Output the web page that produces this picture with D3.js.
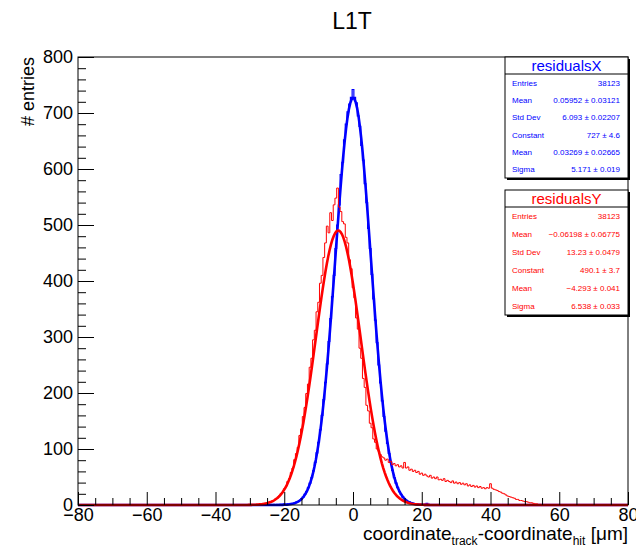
<!DOCTYPE html>
<html>
<head>
  <meta charset="utf-8">
  <script src="https://d3js.org/d3.v7.min.js"></script>
  <style>
    body { margin: 0; background: #fff; }
    svg text { font-family: "Liberation Sans", Arial, sans-serif; }
  </style>
</head>
<body>
<div id="plot"></div>
<script>
// histogram binning (µm), 0.5 um bins
var binWidth = 0.5;
var xRange = [-80, 80];
var yRange = [0, 800];

// residualsX (blue), bins starting at -25.25
var blueStart = -25.25;
var blueCounts = [0,0,1,0,1,0,1,1,1,1,2,1,2,2,3,3,4,5,6,8,11,14,19,24,31,39,49,61,76,93,
  112,134,160,188,219,252,292,333,372,410,458,500,536,590,612,652,680,702,716,728,742,728,718,695,
  676,642,616,574,540,494,458,412,368,330,290,250,218,186,158,132,110,92,76,62,49,39,31,24,19,14,
  11,8,6,5,4,3,2,2,1,1,1,0,1,3,1,0,0];

// residualsY (red), bins starting at -27.25
var redStart = -27.25;
var redCounts = [1,2,2,3,3,5,5,7,8,11,12,16,20,22,29,33,42,47,58,66,81,92,103,124,136,158,174,199,216,246,
  262,295,312,345,362,396,410,442,468,498,486,522,508,536,548,566,532,524,506,502,478,468,438,422,388,370,
  334,314,280,262,226,210,178,168,146,138,118,112,100,96,90,86,84,80,82,76,78,72,74,70,72,68,70,66,76,66,
  68,62,64,60,62,58,60,55,57,53,55,52,50,53,48,50,47,50,45,46,44,47,42,44,42,40,43,39,41,38,40,37,39,36,
  38,34,36,33,35,32,34,31,33,30,31,29,31,30,38,30,28,27,26,24,23,21,20,18,16,15,14,13,12,10,10,8,8,7,6,6,
  5,4,4,3,2,2,1,1,0];

// gaussian fit parameters [constant, mean, sigma]
var fitBlue = [727, 0.03269, 5.171];
var fitRed = [490.1, -4.293, 6.538];

// stat box contents
var statNames = ["Entries", "Mean", "Std Dev", "Constant", "Mean", "Sigma"];
var statBlue = ["38123", "0.05952 \u00b1 0.03121", "6.093 \u00b1 0.02207", "727 \u00b1 4.6", "0.03269 \u00b1 0.02665", "5.171 \u00b1 0.019"];
var statRed = ["38123", "\u22120.06198 \u00b1 0.06775", "13.23 \u00b1 0.0479", "490.1 \u00b1 3.7", "\u22124.293 \u00b1 0.041", "6.538 \u00b1 0.033"];

var xMajor = [-80, -60, -40, -20, 0, 20, 40, 60, 80];
var yMajor = [0, 100, 200, 300, 400, 500, 600, 700, 800];

var W = 636, H = 550;
var margin = {top: 57, right: 8, bottom: 45, left: 78};

var svg = d3.select("#plot").append("svg")
  .attr("width", W)
  .attr("height", H);

var x = d3.scaleLinear().domain(xRange).range([margin.left, W - margin.right]);
var y = d3.scaleLinear().domain(yRange).range([H - margin.bottom, margin.top]);

// title
svg.append("text")
  .attr("x", 352).attr("y", 29)
  .attr("text-anchor", "middle")
  .style("font-size", "23px")
  .text("L1T");

// turn a list of counts into a step outline over the full axis range
function histPoints(start, counts) {
  var pts = [[xRange[0], 0], [start, 0]];
  counts.forEach(function(c, i) { pts.push([start + i * binWidth, c]); });
  pts.push([start + counts.length * binWidth, 0]);
  pts.push([xRange[1], 0]);
  return pts;
}

function fitPoints(p) {
  var pts = [];
  for (var v = xRange[0]; v <= xRange[1] + 1e-9; v += 0.4) {
    pts.push([v, p[0] * Math.exp(-0.5 * Math.pow((v - p[1]) / p[2], 2))]);
  }
  return pts;
}

var stepLine = d3.line()
  .x(function(d) { return x(d[0]); })
  .y(function(d) { return y(d[1]); })
  .curve(d3.curveStepAfter);

var smoothLine = d3.line()
  .x(function(d) { return x(d[0]); })
  .y(function(d) { return y(d[1]); });

var plot = svg.append("g");

plot.append("path")
  .attr("d", stepLine(histPoints(blueStart, blueCounts)))
  .attr("fill", "none").attr("stroke", "#0000ff").attr("stroke-width", 1.2);
plot.append("path")
  .attr("d", smoothLine(fitPoints(fitBlue)))
  .attr("fill", "none").attr("stroke", "#0000ff").attr("stroke-width", 2.6);
plot.append("path")
  .attr("d", stepLine(histPoints(redStart, redCounts)))
  .attr("fill", "none").attr("stroke", "#ff0000").attr("stroke-width", 1);
plot.append("path")
  .attr("d", smoothLine(fitPoints(fitRed)))
  .attr("fill", "none").attr("stroke", "#ff0000").attr("stroke-width", 2.6);

// frame
svg.append("rect")
  .attr("x", x(xRange[0])).attr("y", y(yRange[1]))
  .attr("width", x(xRange[1]) - x(xRange[0]))
  .attr("height", y(yRange[0]) - y(yRange[1]))
  .attr("fill", "none").attr("stroke", "#000").attr("stroke-width", 1);

// x axis (ticks point inward)
var xMinor = d3.range(-80, 81, 5).filter(function(v) { return v % 20 !== 0; });
svg.append("g")
  .attr("transform", "translate(0," + y(0) + ")")
  .call(d3.axisBottom(x).tickValues(xMinor).tickSize(-7).tickFormat(""))
  .call(function(g) { g.select(".domain").remove(); });
svg.append("g")
  .attr("class", "xaxis")
  .attr("transform", "translate(0," + y(0) + ")")
  .call(d3.axisBottom(x).tickValues(xMajor).tickSize(-13).tickPadding(3).tickFormat(d3.format("d")))
  .call(function(g) {
    g.select(".domain").remove();
    g.selectAll("text").style("font-size", "18px").attr("fill", "#000").attr("dy", "0.71em");
  });

// y axis
var yMinor = d3.range(0, 801, 20).filter(function(v) { return v % 100 !== 0; });
svg.append("g")
  .attr("transform", "translate(" + x(-80) + ",0)")
  .call(d3.axisLeft(y).tickValues(yMinor).tickSize(-8).tickFormat(""))
  .call(function(g) { g.select(".domain").remove(); });
svg.append("g")
  .attr("transform", "translate(" + x(-80) + ",0)")
  .call(d3.axisLeft(y).tickValues(yMajor).tickSize(-16).tickPadding(5).tickFormat(d3.format("d")))
  .call(function(g) {
    g.select(".domain").remove();
    g.selectAll("text").style("font-size", "18px").attr("fill", "#000");
  });

// axis titles
svg.append("text")
  .attr("transform", "translate(34," + margin.top + ") rotate(-90)")
  .attr("text-anchor", "end")
  .style("font-size", "18px")
  .text("# entries");

var xt = svg.append("text")
  .attr("x", x(80)).attr("y", 540)
  .attr("text-anchor", "end")
  .style("font-size", "19px");
xt.append("tspan").text("coordinate");
xt.append("tspan").attr("dy", 5).style("font-size", "12px").text("track");
xt.append("tspan").attr("dy", -5).text("-coordinate");
xt.append("tspan").attr("dy", 5).style("font-size", "12px").text("hit");
xt.append("tspan").attr("dy", -5).text(" [\u03bcm]");

// stat boxes
function statBox(top, bottom, name, values, color) {
  var left = 505, right = 628;
  var g = svg.append("g");
  g.append("rect")
    .attr("x", left + 2).attr("y", top + 2)
    .attr("width", right - left).attr("height", bottom - top)
    .attr("fill", "#000");
  g.append("rect")
    .attr("x", left).attr("y", top)
    .attr("width", right - left).attr("height", bottom - top)
    .attr("fill", "#fff").attr("stroke", "#000").attr("stroke-width", 1);
  var head = top + 17;
  g.append("line")
    .attr("x1", left).attr("x2", right).attr("y1", head).attr("y2", head)
    .attr("stroke", "#000");
  g.append("text")
    .attr("x", (left + right) / 2).attr("y", top + 14)
    .attr("text-anchor", "middle")
    .attr("fill", color)
    .style("font-size", "15px")
    .text(name);
  var rowH = (bottom - head) / statNames.length;
  statNames.forEach(function(s, i) {
    var ty = head + rowH * (i + 0.5) + 3;
    g.append("text").attr("x", left + 7).attr("y", ty)
      .attr("fill", color).style("font-size", "8px").text(s);
    g.append("text").attr("x", right - 8).attr("y", ty)
      .attr("text-anchor", "end")
      .attr("fill", color).style("font-size", "8px").text(values[i]);
  });
}

statBox(57, 178, "residualsX", statBlue, "#0000ff");
statBox(190, 315, "residualsY", statRed, "#ff0000");
</script>
</body>
</html>
